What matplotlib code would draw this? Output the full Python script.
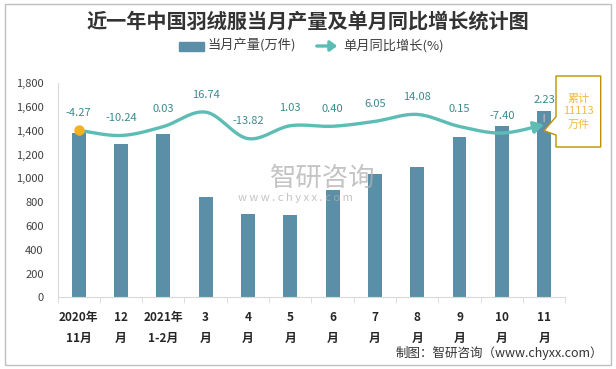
import matplotlib
matplotlib.use("Agg")
import matplotlib.pyplot as plt
from matplotlib.patches import Rectangle, Polygon
import numpy as np

plt.rcParams['font.family'] = ['Noto Sans CJK SC', 'DejaVu Sans']

months = ["2020年\n11月", "12\n月", "2021年\n1-2月", "3\n月", "4\n月", "5\n月",
          "6\n月", "7\n月", "8\n月", "9\n月", "10\n月", "11\n月"]
output = [1384, 1289, 1373, 843, 700, 692, 902, 1037, 1096, 1348, 1441, 1567]
growth = [-4.27, -10.24, 0.03, 16.74, -13.82, 1.03, 0.40, 6.05, 14.08, 0.15, -7.40, 2.23]
total_label = "累计\n11113\n万件"

bar_color = "#5B8FA8"
line_color = "#5DBDB4"
label_color = "#3B8A8E"

W, H = 616, 369


def fx(px):
    return px / W


def fy(py):
    return 1 - py / H


def smooth(x, y, n=30):
    # catmull-rom, like excel's smoothed line
    x = np.asarray(x, float)
    y = np.asarray(y, float)
    px = np.concatenate([[x[0]], x, [x[-1]]])
    py = np.concatenate([[y[0]], y, [y[-1]]])
    xs, ys = [], []
    t = np.linspace(0, 1, n, endpoint=False)
    for i in range(1, len(px) - 2):
        for arr, out in ((px, xs), (py, ys)):
            p0, p1, p2, p3 = arr[i - 1], arr[i], arr[i + 1], arr[i + 2]
            m1 = (p2 - p0) / 2
            m2 = (p3 - p1) / 2
            h00 = 2 * t**3 - 3 * t**2 + 1
            h10 = t**3 - 2 * t**2 + t
            h01 = -2 * t**3 + 3 * t**2
            h11 = t**3 - t**2
            out.extend(h00 * p1 + h10 * m1 + h01 * p2 + h11 * m2)
    xs.append(x[-1])
    ys.append(y[-1])
    return np.array(xs), np.array(ys)


fig = plt.figure(figsize=(6.16, 3.69), dpi=100)
ax = fig.add_axes([fx(57.5), fy(297.3), fx(565.3) - fx(57.5), fy(83.3) - fy(297.3)])

x = np.arange(len(months))
ax.bar(x, output, width=0.33, color=bar_color, zorder=2)
ax.set_xlim(-0.5, len(months) - 0.5)
ax.set_ylim(0, 1800)
ax.set_yticks(range(0, 1801, 200))
ax.set_yticklabels([f"{v:,}" for v in range(0, 1801, 200)], fontsize=8, color="#404040")
ax.set_xticks(x)
ax.set_xticklabels(months, fontsize=8.5, fontweight="bold", color="#262626", linespacing=1.8)
ax.set_xticks(np.arange(-0.5, len(months), 1), minor=True)
ax.tick_params(axis="x", which="major", length=0, pad=10)
ax.tick_params(axis="x", which="minor", length=4, color="#D9D9D9", direction="out")
ax.tick_params(axis="y", length=0, pad=10)
for s in ["top", "right"]:
    ax.spines[s].set_visible(False)
ax.spines["left"].set_color("#D9D9D9")
ax.spines["bottom"].set_color("#D9D9D9")

# growth line on hidden secondary axis
ax2 = ax.twinx()
ax2.set_ylim(-197, 50)
ax2.axis("off")
sx, sy = smooth(x, growth)
ax2.plot(sx[:-8], sy[:-8], color=line_color, lw=2.4, solid_capstyle="butt", zorder=3)
ax2.annotate("", xy=(sx[-1], sy[-1]), xytext=(sx[-9], sy[-9]),
             arrowprops=dict(arrowstyle="-|>,head_length=0.6,head_width=0.35",
                             color=line_color, lw=2.4, shrinkA=0, shrinkB=0))
ax2.plot(x[0], growth[0], "o", color="#F5B120", ms=6.5, zorder=4)

for i, g in enumerate(growth):
    if i == len(growth) - 1:
        ax2.annotate(f"{g:.2f}", xy=(x[i], g), xytext=(0, 18), textcoords="offset points",
                     ha="center", va="center", fontsize=8, color=label_color,
                     arrowprops=dict(arrowstyle="-", color="#BFBFBF", lw=0.8,
                                     shrinkA=5, shrinkB=2))
    else:
        ax2.annotate(f"{g:.2f}", xy=(x[i], g), xytext=(0, 12.5), textcoords="offset points",
                     ha="center", va="center", fontsize=8, color=label_color)

# callout for cumulative total
callout = [(556, 76), (600.7, 76), (600.7, 147), (556, 147), (556, 135),
           (544, 130.7), (556, 116.7)]
fig.patches.append(Polygon([(fx(a), fy(b)) for a, b in callout], closed=True,
                           transform=fig.transFigure, facecolor="white",
                           edgecolor="#BF9000", lw=1, zorder=5))
fig.text(fx(578.4), fy(111.5), total_label, ha="center", va="center", fontsize=8,
         color="#F4B940", linespacing=1.35, zorder=6)

# title
fig.text(0.5, fy(22), "近一年中国羽绒服当月产量及单月同比增长统计图", ha="center", va="center",
         fontsize=14.5, fontweight="bold", color="#333333")

# legend
fig.patches.append(Rectangle((fx(179), fy(50.5)), fx(25), fy(42) - fy(50.5),
                             transform=fig.transFigure, color=bar_color))
fig.text(fx(207), fy(46), "当月产量(万件)", ha="left", va="center", fontsize=9.5, color="#404040")
fig.patches.append(matplotlib.patches.FancyArrowPatch(
    (fx(314), fy(46)), (fx(340), fy(46)), transform=fig.transFigure,
    arrowstyle="-|>,head_length=4,head_width=3", color=line_color, lw=2.4,
    mutation_scale=1))
fig.text(fx(343), fy(46), "单月同比增长(%)", ha="left", va="center", fontsize=9.5, color="#404040")

# watermark
fig.text(fx(270), fy(178), "智研咨询", ha="left", va="center", fontsize=19,
         color="#B0B0B0", alpha=0.75, zorder=0)
fig.text(fx(238), fy(198), "w w w . c h y x x . c o m", ha="left", va="center", fontsize=8,
         color="#B0B0B0", alpha=0.75, zorder=0)

# footer
fig.text(fx(603), fy(353), "制图：智研咨询（www.chyxx.com）", ha="right", va="center",
         fontsize=9, color="#333333")

# outer border
fig.patches.append(Rectangle((fx(5), fy(365)), fx(606), fy(4) - fy(365),
                             transform=fig.transFigure, fill=False,
                             edgecolor="#BFBFBF", lw=1))

fig.savefig("out.png", dpi=100)
